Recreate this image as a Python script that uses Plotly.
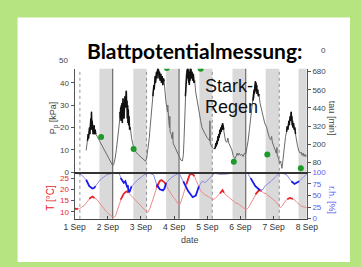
import plotly.graph_objects as go

W, H = 361, 267

# ---------------- data (time in days since 1 Sep 00:00) ----------------
day_ticks = [0, 1, 2, 3, 4, 5, 6, 7]
day_labels = ["1 Sep", "2 Sep", "3 Sep", "4 Sep", "5 Sep", "6 Sep", "7 Sep", "8 Sep"]

night_start = [0.75, 1.77, 2.76, 3.76, 4.76, 5.76, 6.75]
night_end = [1.15, 2.17, 3.15, 4.15, 5.16, 6.17, 7.00]
solid_lines = [1.15, 3.15, 5.16]
dotted_lines = [0.16, 2.17, 4.15, 6.17]

pp_points = [
    (0.35, 9.7), (0.37, 12), (0.39, 14), (0.41, 17), (0.42, 15), (0.43, 19), (0.44, 16), (0.45, 20),
    (0.46, 17), (0.47, 22), (0.48, 18), (0.49, 24), (0.50, 19), (0.51, 27), (0.52, 20), (0.53, 23),
    (0.54, 18), (0.55, 21), (0.56, 17), (0.57, 20), (0.58, 18), (0.59, 21), (0.60, 17), (0.62, 19),
    (0.64, 17), (0.68, 16), (0.75, 14), (0.82, 12.5), (0.89, 10.2), (0.96, 8.2), (1.03, 6.2),
    (1.10, 4.3), (1.15, 2.9),
    (1.18, 3.5), (1.22, 6), (1.26, 10), (1.29, 13.3), (1.32, 17), (1.35, 22), (1.37, 27), (1.38, 24),
    (1.39, 29), (1.40, 23), (1.41, 30), (1.42, 25), (1.43, 31), (1.44, 22), (1.45, 28), (1.46, 33),
    (1.47, 26), (1.48, 31), (1.49, 24), (1.50, 32), (1.51, 27), (1.52, 34), (1.53, 29), (1.54, 35),
    (1.55, 30), (1.56, 36.4), (1.57, 29), (1.58, 32), (1.59, 24), (1.60, 30), (1.61, 22), (1.62, 28),
    (1.63, 21), (1.64, 25), (1.66, 19), (1.68, 20), (1.72, 15), (1.78, 11), (1.85, 9), (1.92, 7.8),
    (1.99, 6.8), (2.06, 6), (2.14, 4.9),
    (2.17, 6), (2.21, 10), (2.25, 15), (2.28, 20.5), (2.31, 26), (2.34, 31), (2.36, 34), (2.38, 36),
    (2.39, 39), (2.40, 37), (2.41, 41), (2.42, 38), (2.43, 43), (2.44, 40), (2.45, 44), (2.46, 41),
    (2.47, 45), (2.48, 42), (2.49, 46), (2.50, 43), (2.51, 47), (2.52, 44), (2.53, 46), (2.55, 42),
    (2.56, 45), (2.58, 41), (2.60, 44), (2.62, 40), (2.64, 43), (2.66, 39), (2.68, 42), (2.70, 40.7),
    (2.72, 36), (2.75, 32), (2.78, 29), (2.80, 27), (2.81, 30), (2.82, 24), (2.84, 23), (2.86, 20),
    (2.87, 25), (2.88, 18), (2.91, 17), (2.94, 15), (2.96, 18), (2.97, 13), (3.00, 12), (3.05, 10),
    (3.10, 8), (3.15, 6.5), (3.20, 5.5), (3.25, 5),
    (3.28, 8), (3.30, 15), (3.32, 25), (3.34, 34), (3.36, 40), (3.37, 44), (3.38, 41), (3.39, 46),
    (3.40, 43), (3.41, 47), (3.42, 42), (3.43, 46), (3.44, 40), (3.45, 45), (3.46, 39), (3.47, 44),
    (3.48, 41), (3.49, 47), (3.50, 43), (3.51, 46), (3.52, 42), (3.54, 45), (3.56, 41), (3.58, 44),
    (3.60, 40), (3.62, 41), (3.65, 36), (3.70, 31), (3.75, 27.7), (3.80, 23), (3.84, 20), (3.88, 18.5),
    (3.92, 17.5), (3.96, 16.5), (3.99, 15.5), (4.03, 15), (4.07, 14), (4.08, 23), (4.09, 13),
    (4.13, 11.5), (4.18, 10.5), (4.22, 10.4),
    (4.24, 11), (4.26, 13), (4.27, 11.5), (4.29, 14), (4.30, 12.5), (4.32, 16), (4.33, 14), (4.35, 17),
    (4.36, 15.5), (4.38, 19), (4.39, 17), (4.41, 20), (4.42, 18), (4.44, 21), (4.45, 19), (4.46, 21.9),
    (4.48, 20), (4.50, 19), (4.52, 16), (4.55, 14), (4.59, 13.3), (4.62, 15.3), (4.65, 13),
    (4.69, 11.5), (4.74, 10), (4.78, 7.5), (4.83, 6), (4.87, 7), (4.90, 8.5), (4.93, 7.5), (4.96, 8.5),
    (5.00, 7.5), (5.04, 8), (5.08, 7), (5.12, 8.5), (5.16, 8),
    (5.19, 10), (5.23, 14), (5.27, 19), (5.31, 24), (5.35, 29), (5.38, 32), (5.39, 35), (5.40, 33),
    (5.41, 37), (5.42, 35), (5.43, 39), (5.44, 36), (5.45, 40.7), (5.46, 37), (5.47, 40), (5.48, 36),
    (5.49, 39), (5.50, 35), (5.52, 37), (5.54, 34), (5.56, 35), (5.59, 31), (5.64, 27.7), (5.69, 24),
    (5.73, 22), (5.78, 20.5), (5.83, 17.5), (5.87, 15.5), (5.91, 14.5), (5.94, 16), (5.96, 13.5),
    (6.00, 12), (6.04, 10), (6.08, 8.5), (6.10, 11), (6.11, 7.5), (6.15, 6), (6.18, 4), (6.21, 5),
    (6.23, 2.5), (6.25, 1.7),
    (6.27, 4), (6.30, 9), (6.33, 13), (6.36, 16), (6.39, 18), (6.41, 20.5), (6.43, 19), (6.44, 22),
    (6.45, 20), (6.46, 23), (6.47, 21), (6.48, 24), (6.49, 22), (6.50, 25), (6.51, 23), (6.52, 26),
    (6.53, 27), (6.54, 24), (6.55, 25), (6.56, 21), (6.57, 23), (6.58, 20), (6.60, 22), (6.62, 19),
    (6.64, 20), (6.66, 17), (6.69, 14), (6.72, 11.8), (6.76, 9.5), (6.80, 8.5), (6.83, 9), (6.86, 7.5),
    (6.89, 8.5), (6.92, 7), (6.95, 8), (6.98, 7), (7.00, 7.5),
]
pp_time = [p[0] for p in pp_points]
pp_kpa = [p[1] for p in pp_points]
pp_day_windows = [(0.38, 0.66), (1.36, 1.68), (2.36, 2.70), (3.33, 3.62), (4.22, 4.50), (5.36, 5.56), (6.39, 6.66)]

dots_time = [0.80, 1.78, 2.78, 3.80, 4.80, 5.81, 6.82]
dots_kpa = [15.7, 10.4, 46.6, 46.3, 4.6, 7.9, 1.7]

temp_points = [
    (0.00, 11.5), (0.05, 11.2), (0.10, 11.4), (0.15, 11.3), (0.21, 12.0), (0.30, 12.9), (0.37, 14.3),
    (0.44, 15.8), (0.49, 16.5), (0.54, 16.8), (0.60, 16.2), (0.68, 15.4), (0.75, 14.0), (0.82, 12.6),
    (0.89, 11.2), (0.96, 10.0), (1.03, 9.0), (1.10, 8.1), (1.15, 7.6), (1.20, 7.5), (1.25, 8.7),
    (1.29, 10.7), (1.34, 13.0), (1.39, 15.4), (1.43, 16.8), (1.48, 18.0), (1.53, 18.8), (1.58, 19.2),
    (1.62, 18.6), (1.67, 17.8), (1.74, 16.5), (1.81, 15.4), (1.90, 14.0), (2.00, 12.6), (2.07, 11.4),
    (2.14, 10.4), (2.21, 9.7), (2.27, 11.5), (2.33, 14.1), (2.40, 17.5), (2.47, 20.9), (2.52, 22.8),
    (2.57, 23.8), (2.62, 24.2), (2.66, 23.8), (2.71, 23.2), (2.76, 22.3), (2.83, 20.0), (2.90, 18.0),
    (2.97, 16.6), (3.04, 15.4), (3.10, 14.0), (3.15, 12.9), (3.19, 13.6), (3.23, 15.4), (3.30, 18.8),
    (3.37, 22.3), (3.42, 25.0), (3.47, 26.7), (3.52, 27.0), (3.57, 26.8), (3.61, 26.0), (3.66, 24.2),
    (3.70, 22.3), (3.75, 20.6), (3.80, 19.4), (3.89, 18.0), (3.96, 17.2), (4.03, 16.8), (4.10, 16.2),
    (4.17, 15.4), (4.24, 16.0), (4.31, 17.0), (4.38, 18.2), (4.46, 19.7), (4.50, 18.6), (4.55, 17.6),
    (4.65, 16.5), (4.75, 15.2), (4.85, 14.0), (4.93, 13.6), (5.02, 12.4), (5.10, 11.3), (5.17, 10.8),
    (5.24, 11.8), (5.31, 13.6), (5.38, 15.8), (5.45, 17.8), (5.50, 18.7), (5.55, 19.5), (5.59, 19.7),
    (5.64, 19.2), (5.69, 18.5), (5.78, 18.0), (5.86, 17.0), (5.93, 16.3), (6.01, 15.4), (6.06, 14.6),
    (6.13, 13.2), (6.20, 11.8), (6.27, 12.8), (6.35, 14.8), (6.41, 15.6), (6.45, 16.0), (6.49, 16.2),
    (6.53, 16.0), (6.58, 15.8), (6.63, 15.4), (6.70, 14.2), (6.77, 13.2), (6.82, 12.6), (6.88, 12.3),
    (6.94, 12.0), (7.00, 11.8),
]
temp_time = [p[0] for p in temp_points]
temp_c = [p[1] for p in temp_points]
temp_day_windows = [(0.0, 0.12), (0.40, 0.62), (1.39, 1.62), (2.45, 2.76), (3.37, 3.62), (4.38, 4.50), (5.45, 5.64), (6.41, 6.58)]

rh_points = [
    (0.000, 98), (0.113, 97), (0.208, 94.5), (0.349, 84), (0.444, 70), (0.538, 65), (0.585, 66),
    (0.633, 70), (0.774, 84), (0.963, 94.5), (1.152, 98.6), (1.341, 98), (1.388, 87.6), (1.435, 82),
    (1.483, 77.3), (1.530, 80.7), (1.577, 70), (1.605, 72), (1.624, 60), (1.652, 57), (1.719, 70),
    (1.907, 84), (2.096, 94.5), (2.238, 98.6), (2.380, 94.5), (2.474, 73.8), (2.568, 63.5),
    (2.663, 61), (2.710, 65), (2.757, 77), (2.899, 87.6), (3.041, 94.5), (3.154, 98), (3.277, 80.7),
    (3.418, 60), (3.560, 46.2), (3.654, 49.6), (3.749, 70), (3.843, 80.7), (3.938, 78), (4.079, 87.6),
    (4.221, 98), (4.363, 96), (4.551, 96), (4.740, 98), (4.929, 98), (5.212, 98.6), (5.307, 87.6),
    (5.449, 70), (5.590, 61.3), (5.684, 63), (5.732, 70), (5.921, 80.7), (6.062, 91), (6.204, 100),
    (6.393, 94.5), (6.534, 80.7), (6.629, 75), (6.771, 80.7), (6.912, 91), (7.000, 96),
]
rh_time = [p[0] for p in rh_points]
rh_pct = [p[1] for p in rh_points]
rh_day_windows = [(0.30, 0.66), (1.36, 1.72), (2.42, 2.76), (3.26, 3.75), (5.28, 5.68), (6.45, 6.80)]

pp_ticks = [0, 10, 20, 30, 40]
tau_ticks = [80, 200, 320, 440, 560, 680]
temp_ticks = [10, 15, 20, 25]
rh_ticks = [0, 25, 50, 75, 100]


def windowed(ts, vs, windows):
    xs, ys = [], []
    for a, b in windows:
        for t, v in zip(ts, vs):
            if a <= t <= b:
                xs.append(t)
                ys.append(v)
        xs.append(None)
        ys.append(None)
    return xs, ys


def px(x):
    return x / W


def py(y):
    return 1 - y / H


FONT = "Liberation Sans, Arial, sans-serif"
RED = "#e8262a"
RED_L = "#ec8a8a"
BLUE = "#1c1cf0"
BLUE_L = "#8a8ae6"
TXT = "#444444"

fig = go.Figure()

fig.add_trace(go.Scatter(x=pp_time, y=pp_kpa, mode="lines", xaxis="x2", yaxis="y",
                         line=dict(color="#6a6a6a", width=1)))
bx, by = windowed(pp_time, pp_kpa, pp_day_windows)
fig.add_trace(go.Scatter(x=bx, y=by, mode="lines", xaxis="x2", yaxis="y",
                         line=dict(color="#111111", width=1.5), connectgaps=False))
fig.add_trace(go.Scatter(x=dots_time, y=dots_kpa, mode="markers", xaxis="x2", yaxis="y",
                         marker=dict(color="#1f9a2a", size=6), cliponaxis=True))
# empty trace so the tau axis gets drawn
fig.add_trace(go.Scatter(x=[], y=[], mode="lines", xaxis="x2", yaxis="y2", hoverinfo="skip"))

fig.add_trace(go.Scatter(x=temp_time, y=temp_c, mode="lines", xaxis="x", yaxis="y3",
                         line=dict(color=RED_L, width=1)))
tx, ty = windowed(temp_time, temp_c, temp_day_windows)
fig.add_trace(go.Scatter(x=tx, y=ty, mode="lines", xaxis="x", yaxis="y3",
                         line=dict(color=RED, width=1.8), connectgaps=False))

fig.add_trace(go.Scatter(x=rh_time, y=rh_pct, mode="lines", xaxis="x", yaxis="y4",
                         line=dict(color=BLUE_L, width=1)))
hx, hy = windowed(rh_time, rh_pct, rh_day_windows)
fig.add_trace(go.Scatter(x=hx, y=hy, mode="lines", xaxis="x", yaxis="y4",
                         line=dict(color=BLUE, width=1.8), connectgaps=False))

TOP = 67.0      # visible top of the upper panel (the slide title hides the rest)
shapes = [
    dict(type="rect", xref="paper", yref="paper", x0=px(7), x1=1, y0=0, y1=py(14),
         fillcolor="white", line=dict(width=0), layer="below"),
]
for a, b in zip(night_start, night_end):
    shapes.append(dict(type="rect", xref="x", yref="paper", x0=a, x1=b, y0=py(222.3), y1=py(TOP),
                       fillcolor="#d9d9d9", line=dict(width=0), layer="below"))
for d in solid_lines:
    shapes.append(dict(type="line", xref="x", yref="paper", x0=d, x1=d, y0=py(222.3), y1=py(TOP),
                       line=dict(color="#555555", width=1), layer="below"))
for d in dotted_lines:
    shapes.append(dict(type="line", xref="x", yref="paper", x0=d, x1=d, y0=py(222.3), y1=py(TOP),
                       line=dict(color="#777777", width=0.8, dash="dot"), layer="below"))

tickfont = dict(family=FONT, size=8, color=TXT)
xdom = [px(67.7), px(315)]
up_dom = [py(174), py(TOP)]
lo_dom = [py(222.3), py(174)]
pp_range = [0, (174 - TOP) / 2.31]
tau_range = [16, 16 + (174 - TOP) * 6.383]

fig.update_layout(
    width=W, height=H, autosize=False,
    margin=dict(l=0, r=0, t=0, b=0),
    paper_bgcolor="#b5e480", plot_bgcolor="rgba(0,0,0,0)",
    showlegend=False, shapes=shapes,
    xaxis=dict(domain=xdom, anchor="y3", range=[0, 7], tickvals=day_ticks, ticktext=day_labels,
               showgrid=False, zeroline=False, showline=True, linecolor="#444444", linewidth=1,
               ticks="inside", ticklen=3, tickcolor="#444444",
               tickfont=dict(family=FONT, size=8.5, color="#333333")),
    xaxis2=dict(domain=xdom, anchor="y", matches="x", range=[0, 7], showticklabels=False,
                showgrid=False, zeroline=False, showline=True, linecolor="#333333", linewidth=1.5,
                ticks=""),
    yaxis=dict(domain=up_dom, anchor="x2", range=pp_range, tickvals=pp_ticks, showgrid=False,
               zeroline=False, showline=True, linecolor="#555555", linewidth=1,
               ticks="outside", ticklen=3, tickcolor="#555555", tickfont=tickfont),
    yaxis2=dict(overlaying="y", side="right", anchor="x2", range=tau_range, tickvals=tau_ticks,
                showgrid=False, zeroline=False, showline=True, linecolor="#555555", linewidth=1,
                ticks="outside", ticklen=3, tickcolor="#555555", tickfont=tickfont),
    yaxis3=dict(domain=lo_dom, anchor="x", range=[6.8, 27.8], tickvals=temp_ticks, showgrid=False,
                zeroline=False, showline=True, linecolor="#555555", linewidth=1,
                ticks="outside", ticklen=3, tickcolor="#555555",
                tickfont=dict(family=FONT, size=8, color=RED)),
    yaxis4=dict(overlaying="y3", side="right", anchor="x", range=[-0.5, 100.5], tickvals=rh_ticks,
                showgrid=False, zeroline=False, showline=True, linecolor="#555555", linewidth=1,
                ticks="outside", ticklen=3, tickcolor="#555555",
                tickfont=dict(family=FONT, size=8, color="#5a5af0")),
)

ann = [
    dict(text="<b>Blattpotentialmessung:</b>", x=px(195), y=py(48),
         font=dict(family="Lato, Open Sans, sans-serif", size=21, color="black")),
    dict(text="Stark-", x=px(204), y=py(85), xanchor="left",
         font=dict(family=FONT, size=18, color="#111111")),
    dict(text="Regen", x=px(204), y=py(107), xanchor="left",
         font=dict(family=FONT, size=18, color="#111111")),
    # tick labels of the title-covered part of the axes
    dict(text="50", x=px(62.5), y=py(58), xanchor="right", font=tickfont),
    dict(text="0", x=px(327.5), y=py(48), xanchor="left", font=tickfont),
    dict(text="P<sub>p</sub> [kPa]", x=px(46), y=py(118), textangle=-90,
         font=dict(family=FONT, size=9, color=TXT)),
    dict(text="tau [min]", x=px(342), y=py(118), textangle=90,
         font=dict(family=FONT, size=9, color=TXT)),
    dict(text="T [°C]", x=px(42), y=py(200), textangle=-90,
         font=dict(family=FONT, size=10, color=RED)),
    dict(text="r.h. [%]", x=px(342), y=py(203), textangle=90,
         font=dict(family=FONT, size=9, color="#5a5af0")),
    dict(text="date", x=px(191), y=py(244),
         font=dict(family=FONT, size=9, color=TXT)),
]
for a in ann:
    a.update(xref="paper", yref="paper", showarrow=False)
    a.setdefault("xanchor", "center")
    a.setdefault("yanchor", "middle")
fig.update_layout(annotations=ann)

fig.write_html("out.html", config={"displayModeBar": False},
               post_script="document.body.style.margin='0';document.body.style.padding='0';")
